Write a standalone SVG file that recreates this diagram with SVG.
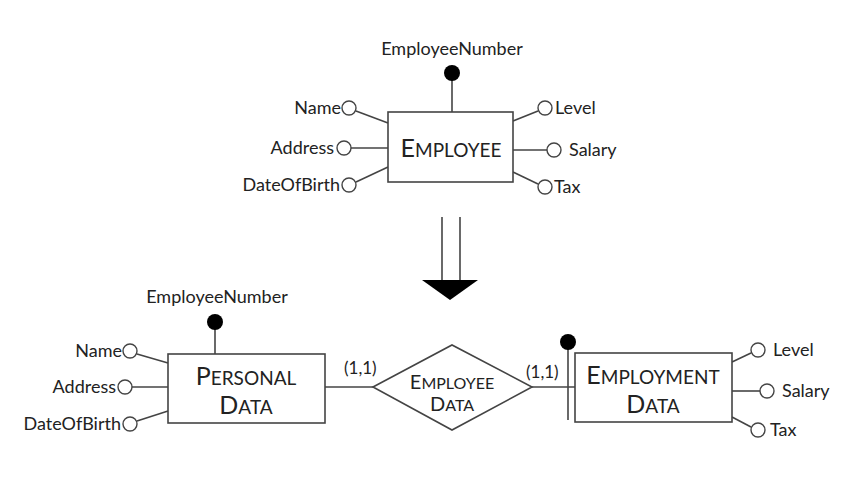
<svg xmlns="http://www.w3.org/2000/svg" width="867" height="497" viewBox="0 0 867 497">
<style>
.ln{stroke:#444;stroke-width:1.6;fill:none}
.box{stroke:#444;stroke-width:1.6;fill:#fff}
.att{stroke:#444;stroke-width:1.4;fill:#fff}
.key{fill:#000}
.t{font-family:Lato,"Open Sans",sans-serif;font-size:18px;fill:#222}
.c{font-family:Lato,"Open Sans",sans-serif;font-size:19px;fill:#222;text-anchor:middle}
.b{font-size:25px}
.r{text-anchor:end}
</style>
<rect width="867" height="497" fill="#fff"/>
<g id="connectors">
  <line class="ln" x1="452" y1="73" x2="452" y2="112"/>
  <line class="ln" x1="356" y1="111" x2="388" y2="123"/>
  <line class="ln" x1="351" y1="148" x2="388" y2="148"/>
  <line class="ln" x1="356" y1="182" x2="388" y2="167"/>
  <line class="ln" x1="513" y1="121" x2="538" y2="111"/>
  <line class="ln" x1="513" y1="150" x2="547" y2="150"/>
  <line class="ln" x1="513" y1="172" x2="538" y2="184"/>
  <line class="ln" x1="215" y1="322" x2="215" y2="354"/>
  <line class="ln" x1="137" y1="354" x2="168" y2="363"/>
  <line class="ln" x1="132" y1="387" x2="168" y2="387"/>
  <line class="ln" x1="137" y1="421" x2="168" y2="411"/>
  <line class="ln" x1="325" y1="387" x2="373" y2="387"/>
  <line class="ln" x1="532" y1="387" x2="575" y2="387"/>
  <line class="ln" x1="568" y1="342" x2="568" y2="420"/>
  <line class="ln" x1="732" y1="362" x2="751" y2="353"/>
  <line class="ln" x1="732" y1="391" x2="760" y2="391"/>
  <line class="ln" x1="732" y1="417" x2="751" y2="427"/>
  <line class="ln" x1="442" y1="217" x2="442" y2="281"/>
  <line class="ln" x1="460" y1="217" x2="460" y2="281"/>
  <polygon points="422,280 478,280 450,300" fill="#000"/>
</g>
<g id="employee">
  <rect class="box" x="388" y="112" width="125" height="70"/>
  <text class="c" x="451" y="157"><tspan class="b">E</tspan>MPLOYEE</text>
</g>
<g id="emp-number">
  <circle class="key" cx="452" cy="73" r="8"/>
  <text class="t" x="452" y="55" text-anchor="middle">EmployeeNumber</text>
</g>
<g id="emp-name"><circle class="att" cx="349" cy="108" r="7"/><text class="t r" x="341" y="114">Name</text></g>
<g id="emp-address"><circle class="att" cx="344" cy="148" r="7"/><text class="t r" x="334" y="154">Address</text></g>
<g id="emp-dob"><circle class="att" cx="349" cy="185" r="7"/><text class="t r" x="340" y="191">DateOfBirth</text></g>
<g id="emp-level"><circle class="att" cx="545" cy="108" r="7"/><text class="t" x="555" y="114">Level</text></g>
<g id="emp-salary"><circle class="att" cx="554" cy="150" r="7"/><text class="t" x="569" y="156">Salary</text></g>
<g id="emp-tax"><circle class="att" cx="545" cy="187" r="7"/><text class="t" x="554" y="193">Tax</text></g>

<g id="personal-data">
  <rect class="box" x="168" y="354" width="157" height="69"/>
  <text class="c" x="246" y="385"><tspan class="b">P</tspan>ERSONAL</text>
  <text class="c" x="246" y="414"><tspan class="b">D</tspan>ATA</text>
</g>
<g id="pd-number">
  <circle class="key" cx="215" cy="322" r="8"/>
  <text class="t" x="217" y="303" text-anchor="middle">EmployeeNumber</text>
</g>
<g id="pd-name"><circle class="att" cx="130" cy="351" r="7"/><text class="t r" x="122" y="357">Name</text></g>
<g id="pd-address"><circle class="att" cx="125" cy="387" r="7"/><text class="t r" x="116" y="393">Address</text></g>
<g id="pd-dob"><circle class="att" cx="130" cy="424" r="7"/><text class="t r" x="121" y="430">DateOfBirth</text></g>

<g id="employee-data">
  <polygon class="box" points="373,387 452,345 532,387 452,430"/>
  <text class="c" x="452" y="389" style="font-size:16px"><tspan style="font-size:20px">E</tspan>MPLOYEE</text>
  <text class="c" x="452" y="411" style="font-size:16px"><tspan style="font-size:20px">D</tspan>ATA</text>
</g>
<g id="card-left"><text class="t" x="344" y="374" style="font-size:17px">(1,1)</text></g>
<g id="card-right"><text class="t" x="526" y="378" style="font-size:17px">(1,1)</text></g>

<g id="employment-data">
  <rect class="box" x="575" y="353" width="157" height="69"/>
  <text class="c" x="653" y="384"><tspan class="b">E</tspan>MPLOYMENT</text>
  <text class="c" x="653" y="413"><tspan class="b">D</tspan>ATA</text>
</g>
<g id="ed-number"><circle class="key" cx="568" cy="342" r="8"/></g>
<g id="ed-level"><circle class="att" cx="758" cy="350" r="7"/><text class="t" x="773" y="356">Level</text></g>
<g id="ed-salary"><circle class="att" cx="767" cy="391" r="7"/><text class="t" x="782" y="397">Salary</text></g>
<g id="ed-tax"><circle class="att" cx="758" cy="430" r="7"/><text class="t" x="770" y="436">Tax</text></g>
</svg>
